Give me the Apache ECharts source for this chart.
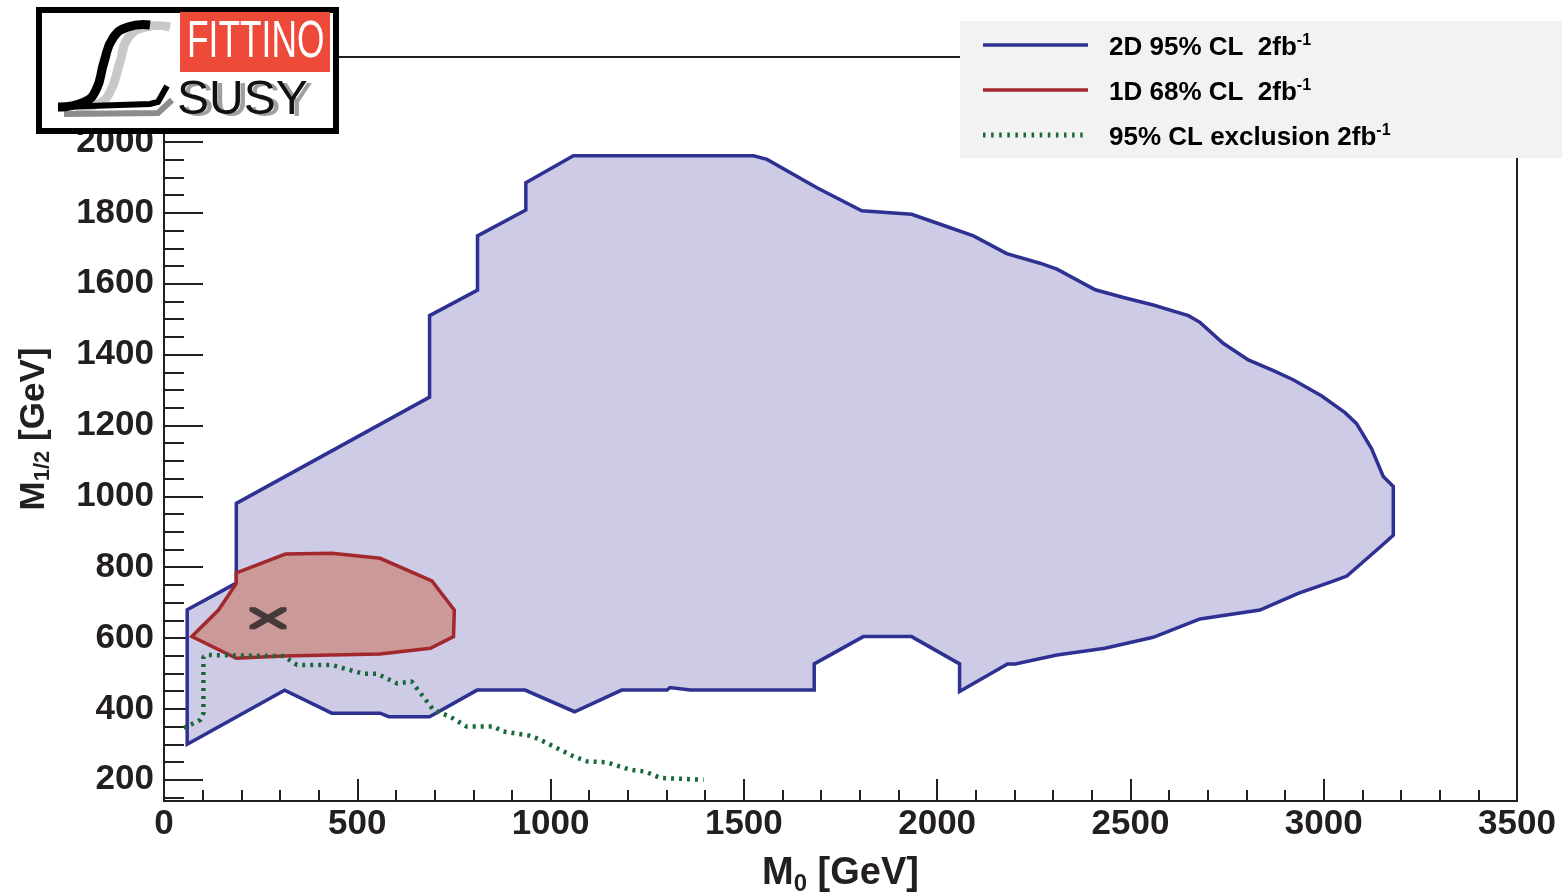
<!DOCTYPE html>
<html>
<head>
<meta charset="utf-8">
<script src="https://cdn.jsdelivr.net/npm/echarts@6/dist/echarts.min.js"></script>
<style>
html, body { margin: 0; padding: 0; background: #fff; }
#chart { width: 1562px; height: 894px; }
</style>
</head>
<body>
<div id="chart"></div>
<script>
// 2D 95% CL contour (M0, M1/2) in GeV
const blueM0 = [60, 60, 187, 187, 687, 687, 811, 811, 936, 936, 1059, 1525, 1560, 1689, 1805, 1934, 2008, 2094, 2180, 2266, 2310, 2409, 2482, 2559, 2650, 2680, 2740, 2805, 2870, 2921, 2995, 3055, 3085, 3124, 3154, 3180, 3180, 3146, 3060, 3021, 2934, 2835, 2680, 2559, 2434, 2310, 2202, 2182, 2058, 2058, 1934, 1809, 1682, 1682, 1646, 1361, 1309, 1301, 1184, 1062, 934, 810, 687, 581, 559, 434, 312];
const blueM12 = [300, 680, 755, 980, 1280, 1510, 1582, 1735, 1808, 1885, 1961, 1961, 1951, 1871, 1806, 1796, 1768, 1735, 1685, 1658, 1641, 1583, 1561, 1540, 1510, 1491, 1432, 1385, 1355, 1329, 1283, 1236, 1205, 1134, 1056, 1028, 890, 857, 775, 759, 726, 679, 654, 602, 571, 552, 527, 527, 449, 527, 604, 604, 527, 453, 453, 453, 460, 453, 453, 392, 453, 453, 378, 378, 388, 388, 453];

// 1D 68% CL contour
const redM0 = [72, 141, 187, 187, 314, 434, 559, 693, 751, 749, 689, 559, 309, 187];
const redM12 = [604, 679, 754, 784, 837, 839, 825, 761, 679, 604, 571, 555, 549, 543];

// 95% CL exclusion line
const exclM0 = [51, 94, 102, 102, 115, 309, 344, 434, 516, 551, 603, 641, 654, 697, 740, 783, 852, 878, 947, 969, 1059, 1094, 1146, 1206, 1245, 1284, 1396];
const exclM12 = [346, 369, 388, 547, 552, 549, 524, 524, 499, 499, 472, 477, 458, 397, 378, 350, 350, 336, 324, 315, 266, 252, 249, 228, 223, 205, 200];

// best fit point
const bestM0 = [269];
const bestM12 = [656];

// tick labels
const yMajor = [200, 400, 600, 800, 1000, 1200, 1400, 1600, 1800, 2000];
const yMinor = [];
for (let v = 150; v <= 2200; v += 50) yMinor.push(v);

const legendNames = ['2D 95% CL  2fb', '1D 68% CL  2fb', '95% CL exclusion 2fb'];

const FONT = 'Liberation Sans';
const INK = '#231f20';
const BLUE_LINE = '#2e3192';
const BLUE_FILL = '#cdcbe6';
const RED_LINE = '#a3282d';
const RED_FILL = '#cb9998';
const GREEN = '#17693a';

const chart = echarts.init(document.getElementById('chart'));

function polygonSeries(name, xs, ys, fill, stroke, z) {
    return {
        type: 'custom',
        name: name,
        coordinateSystem: 'cartesian2d',
        silent: true,
        clip: true,
        z: z,
        data: xs.map((x, i) => [x, ys[i]]),
        encode: { x: 0, y: 1 },
        renderItem: (params, api) => {
            if (params.dataIndex !== 0) return;
            const pts = xs.map((x, i) => api.coord([x, ys[i]]));
            return {
                type: 'polygon',
                shape: { points: pts },
                style: { fill: fill, stroke: stroke, lineWidth: 3.5, lineJoin: 'miter' }
            };
        }
    };
}

const tickStyle = { color: INK, width: 2 };
const labelStyle = { fontSize: 35, fontWeight: 'bold', fontFamily: FONT, color: INK, formatter: (v) => String(v) };

const legendRich = {
    t: { fontSize: 26, fontWeight: 'bold', fontFamily: FONT, color: INK, lineHeight: 30 },
    sup: { fontSize: 16, fontWeight: 'bold', fontFamily: FONT, color: INK, lineHeight: 16, verticalAlign: 'top' }
};
const legendY = [45, 90, 135];
const legendLines = [
    { stroke: BLUE_LINE, lineWidth: 3.5 },
    { stroke: RED_LINE, lineWidth: 3.5 },
    { stroke: GREEN, lineWidth: 5, lineDash: [2.5, 5.6] }
];

const graphic = [
    // legend box
    { type: 'rect', z: 100, shape: { x: 960, y: 21, width: 602, height: 137 }, style: { fill: '#f2f2f2' } }
];
legendNames.forEach((n, i) => {
    graphic.push({ type: 'line', z: 101, shape: { x1: 983, y1: legendY[i], x2: 1088, y2: legendY[i] }, style: legendLines[i] });
    graphic.push({
        type: 'text', z: 101, x: 1109, y: legendY[i] + 3,
        style: { text: '{t|' + n + '}{sup|-1}', rich: legendRich, verticalAlign: 'middle', align: 'left' }
    });
});

// Fittino logo
graphic.push(
    { type: 'rect', z: 100, shape: { x: 39, y: 10, width: 297, height: 121 }, style: { fill: '#fff', stroke: '#000', lineWidth: 6 } },
    { type: 'rect', z: 101, shape: { x: 180, y: 12, width: 150, height: 60 }, style: { fill: '#ee4a3a' } },
    { type: 'text', z: 102, x: 187, y: 43, scaleX: 0.68,
      style: { text: 'FITTINO', fontSize: 52, fontFamily: FONT, fill: '#fff', verticalAlign: 'middle' } },
    { type: 'text', z: 101, x: 182, y: 103,
      style: { text: 'SUSY', fontSize: 48, fontFamily: FONT, fill: '#a0a0a0', verticalAlign: 'middle' } },
    { type: 'text', z: 102, x: 177, y: 101,
      style: { text: 'SUSY', fontSize: 48, fontFamily: FONT, fill: '#111', verticalAlign: 'middle' } },
    // script L (light and mid gray shadows, black on top)
    { type: 'polyline', z: 101, shape: { points: [[170, 27], [146, 27], [128, 38], [120, 62], [110, 92], [98, 104], [76, 108]], smooth: 0.5 },
      style: { stroke: '#c8c8c8', lineWidth: 9, fill: null } },
    { type: 'polyline', z: 101, shape: { points: [[64, 114], [158, 113], [172, 100]] },
      style: { stroke: '#8c8c8c', lineWidth: 6, fill: null } },
    { type: 'polyline', z: 102, shape: { points: [[150, 25], [128, 27], [113, 38], [104, 62], [96, 90], [84, 102], [58, 107]], smooth: 0.5 },
      style: { stroke: '#000', lineWidth: 9, fill: null } },
    { type: 'polyline', z: 102, shape: { points: [[58, 107], [150, 104], [158, 102], [167, 86]] },
      style: { stroke: '#000', lineWidth: 6, fill: null } }
);

const option = {
    animation: false,
    backgroundColor: '#fff',
    grid: {
        left: 164, right: 45, top: 57, bottom: 93,
        outerBoundsMode: 'none',
        show: true, borderColor: INK, borderWidth: 2, backgroundColor: 'transparent'
    },
    xAxis: {
        type: 'value', min: 0, max: 3500, interval: 500,
        name: '{m|M}{s|0}{m| [GeV]}',
        nameLocation: 'middle', nameGap: 51,
        nameTextStyle: {
            rich: {
                m: { fontSize: 38, fontWeight: 'bold', fontFamily: FONT, color: INK, lineHeight: 44 },
                s: { fontSize: 24, fontWeight: 'bold', fontFamily: FONT, color: INK, lineHeight: 24, verticalAlign: 'bottom' }
            }
        },
        axisLine: { show: true, onZero: false, lineStyle: tickStyle },
        axisTick: { show: true, inside: true, length: 22, lineStyle: tickStyle },
        minorTick: { show: true, splitNumber: 5, length: 11, lineStyle: tickStyle },
        axisLabel: Object.assign({ margin: 6 }, labelStyle),
        splitLine: { show: false },
        minorSplitLine: { show: false }
    },
    yAxis: [{
        type: 'value', min: 140, max: 2240, position: 'left',
        name: '{m|M}{s|1/2}{m| [GeV]}',
        nameLocation: 'middle', nameGap: 110, nameRotate: 90,
        nameTextStyle: {
            rich: {
                m: { fontSize: 35, fontWeight: 'bold', fontFamily: FONT, color: INK, lineHeight: 40 },
                s: { fontSize: 22, fontWeight: 'bold', fontFamily: FONT, color: INK, lineHeight: 22, verticalAlign: 'bottom' }
            }
        },
        axisLine: { show: true, onZero: false, lineStyle: tickStyle },
        axisTick: { show: true, inside: true, length: 39, lineStyle: tickStyle, customValues: yMajor },
        axisLabel: Object.assign({ margin: 10, customValues: yMajor }, labelStyle),
        splitLine: { show: false }
    }, {
        type: 'value', min: 140, max: 2240, position: 'left', offset: 0,
        axisLine: { show: false },
        axisTick: { show: true, inside: true, length: 20, lineStyle: tickStyle, customValues: yMinor },
        axisLabel: { show: false },
        splitLine: { show: false }
    }],
    series: [
        polygonSeries('2D 95% CL', blueM0, blueM12, BLUE_FILL, BLUE_LINE, 2),
        polygonSeries('1D 68% CL', redM0, redM12, RED_FILL, RED_LINE, 3),
        {
            type: 'line', name: '95% CL exclusion', silent: true, z: 4,
            data: exclM0.map((x, i) => [x, exclM12[i]]),
            showSymbol: false, symbol: 'none',
            lineStyle: { color: GREEN, width: 4.5, type: [3, 5] }
        },
        {
            type: 'scatter', name: 'best fit', silent: true, z: 5,
            data: bestM0.map((x, i) => [x, bestM12[i]]),
            symbol: 'path://M0,0 L6,0 L37,18 L37,22 L31,22 L0,4 Z M37,0 L37,4 L6,22 L0,22 L0,18 L31,0 Z',
            symbolSize: [37, 22],
            symbolKeepAspect: false,
            itemStyle: { color: INK }
        }
    ],
    graphic: graphic
};

chart.setOption(option);
</script>
</body>
</html>
